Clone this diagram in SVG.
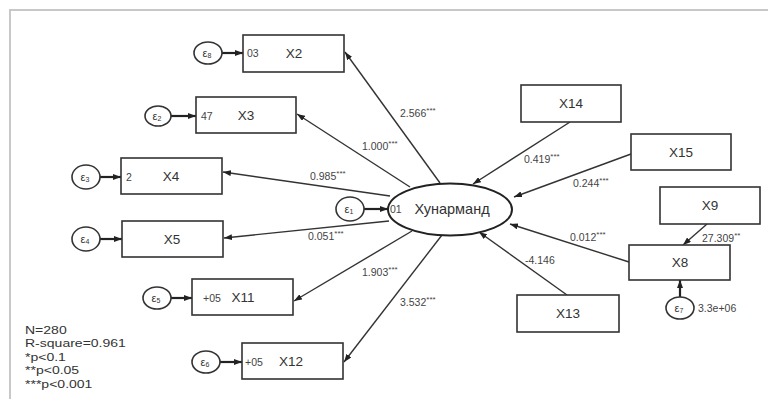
<svg xmlns="http://www.w3.org/2000/svg" width="768" height="399" viewBox="0 0 768 399">
<defs>
<marker id="ah" markerUnits="userSpaceOnUse" markerWidth="8" markerHeight="6" refX="8" refY="3" orient="auto">
<path d="M0,0 L8,3 L0,6 z" fill="#222"/>
</marker>
<style>
.box{fill:#fff;stroke:#333;stroke-width:1.6}
.err{fill:#fff;stroke:#333;stroke-width:1.6}
.lat{fill:#fff;stroke:#222;stroke-width:2}
.lbl{font-family:"Liberation Sans",Arial,sans-serif;font-size:13.5px;fill:#333;text-anchor:middle}
.elbl{font-family:"Liberation Sans",Arial,sans-serif;font-size:11px;fill:#333;text-anchor:middle}
.num{font-family:"Liberation Sans",Arial,sans-serif;font-size:10.5px;fill:#444}
.st{font-size:8px}
.leg{font-family:"Liberation Sans",Arial,sans-serif;font-size:11.5px;fill:#333}
.ln{stroke:#333;stroke-width:1.4;fill:none;marker-end:url(#ah)}
.eln{stroke:#222;stroke-width:2.2;fill:none;marker-end:url(#ah)}
</style>
</defs>
<rect x="0" y="0" width="768" height="399" fill="#fff"/>
<path d="M10,420 L10,10 L780,10" fill="none" stroke="#c8c8c8" stroke-width="2"/>

<g id="connectors">
<path class="ln" d="M440,183 L345,52"/>
<path class="ln" d="M410,187 L297,114"/>
<path class="ln" d="M390,196 L223,172"/>
<path class="ln" d="M389,221 L224,238"/>
<path class="ln" d="M412,231 L294,301"/>
<path class="ln" d="M442,235 L344,362"/>
<path class="ln" d="M570,122 L473,184"/>
<path class="ln" d="M631,154 L514,197"/>
<path class="ln" d="M629,262 L510,224"/>
<path class="ln" d="M567,295 L479,232"/>
<path class="ln" d="M707,224 L683,245"/>
<path class="eln" d="M222,53 L243,53"/>
<path class="eln" d="M171,116 L196,116"/>
<path class="eln" d="M100,177 L121,177"/>
<path class="eln" d="M100,239 L122,239"/>
<path class="eln" d="M171,298 L192,298"/>
<path class="eln" d="M220,362 L242,362"/>
<path class="eln" d="M364,209 L388,209"/>
<path class="eln" d="M680,297 L680,280"/>
</g>

<g id="Хунарманд">
<ellipse class="lat" cx="450" cy="209.5" rx="62" ry="26"/>
<text class="num" x="390" y="213">01</text>
<text class="lbl" x="452" y="214" style="font-size:14.5px">Хунарманд</text>
</g>
<g id="e1"><ellipse class="err" cx="350" cy="209" rx="14" ry="12"/><text class="elbl" x="349" y="213">ε<tspan font-size="7" dy="1">1</tspan></text></g>

<g id="X2"><rect class="box" x="243" y="35" width="101" height="37"/><text class="lbl" x="294" y="58">X2</text><text class="num" x="247" y="57">03</text></g>
<g id="e8"><ellipse class="err" cx="208" cy="53" rx="14" ry="11"/><text class="elbl" x="207" y="57">ε<tspan font-size="7" dy="1">8</tspan></text></g>

<g id="X3"><rect class="box" x="196" y="97" width="100" height="36"/><text class="lbl" x="246" y="120">X3</text><text class="num" x="201" y="120">47</text></g>
<g id="e2"><ellipse class="err" cx="158" cy="116" rx="13" ry="10"/><text class="elbl" x="157" y="120">ε<tspan font-size="7" dy="1">2</tspan></text></g>

<g id="X4"><rect class="box" x="121" y="158" width="101" height="36"/><text class="lbl" x="171" y="181">X4</text><text class="num" x="126" y="181">2</text></g>
<g id="e3"><ellipse class="err" cx="86" cy="177" rx="14" ry="12"/><text class="elbl" x="85" y="181">ε<tspan font-size="7" dy="1">3</tspan></text></g>

<g id="X5"><rect class="box" x="122" y="221" width="101" height="36"/><text class="lbl" x="172" y="244">X5</text></g>
<g id="e4"><ellipse class="err" cx="86" cy="239" rx="14" ry="12"/><text class="elbl" x="85" y="243">ε<tspan font-size="7" dy="1">4</tspan></text></g>

<g id="X11"><rect class="box" x="192" y="279" width="101" height="36"/><text class="lbl" x="243" y="302">X11</text><text class="num" x="203" y="302">+05</text></g>
<g id="e5"><ellipse class="err" cx="157" cy="298" rx="14" ry="11"/><text class="elbl" x="156" y="302">ε<tspan font-size="7" dy="1">5</tspan></text></g>

<g id="X12"><rect class="box" x="242" y="343" width="101" height="36"/><text class="lbl" x="291" y="366">X12</text><text class="num" x="245" y="366">+05</text></g>
<g id="e6"><ellipse class="err" cx="206" cy="362" rx="14" ry="11"/><text class="elbl" x="205" y="366">ε<tspan font-size="7" dy="1">6</tspan></text></g>

<g id="X14"><rect class="box" x="521" y="85" width="100" height="37"/><text class="lbl" x="571" y="108">X14</text></g>
<g id="X15"><rect class="box" x="631" y="134" width="100" height="36"/><text class="lbl" x="681" y="157">X15</text></g>
<g id="X9"><rect class="box" x="660" y="187" width="100" height="37"/><text class="lbl" x="710" y="210">X9</text></g>
<g id="X8"><rect class="box" x="629" y="245" width="101" height="35"/><text class="lbl" x="680" y="267">X8</text></g>
<g id="X13"><rect class="box" x="517" y="295" width="102" height="37"/><text class="lbl" x="568" y="318">X13</text></g>
<g id="e7"><ellipse class="err" cx="680" cy="308" rx="14" ry="11"/><text class="elbl" x="679" y="312">ε<tspan font-size="7" dy="1">7</tspan></text><text class="num" x="698" y="312">3.3e+06</text></g>

<g id="labels">
<text class="num" x="400" y="117">2.566<tspan class="st" dy="-4">***</tspan></text>
<text class="num" x="362" y="150">1.000<tspan class="st" dy="-4">***</tspan></text>
<text class="num" x="310" y="180">0.985<tspan class="st" dy="-4">***</tspan></text>
<text class="num" x="308" y="240">0.051<tspan class="st" dy="-4">***</tspan></text>
<text class="num" x="362" y="276">1.903<tspan class="st" dy="-4">***</tspan></text>
<text class="num" x="400" y="306">3.532<tspan class="st" dy="-4">***</tspan></text>
<text class="num" x="524" y="163">0.419<tspan class="st" dy="-4">***</tspan></text>
<text class="num" x="573" y="187">0.244<tspan class="st" dy="-4">***</tspan></text>
<text class="num" x="570" y="241">0.012<tspan class="st" dy="-4">***</tspan></text>
<text class="num" x="525" y="264">-4.146</text>
<text class="num" x="702" y="242">27.309<tspan class="st" dy="-4">**</tspan></text>
</g>

<g id="legend" transform="translate(25,0) scale(1.22,1)">
<text class="leg" x="0" y="334">N=280</text>
<text class="leg" x="0" y="347.5">R-square=0.961</text>
<text class="leg" x="0" y="361">*p&lt;0.1</text>
<text class="leg" x="0" y="374.5">**p&lt;0.05</text>
<text class="leg" x="0" y="388">***p&lt;0.001</text>
</g>
</svg>
